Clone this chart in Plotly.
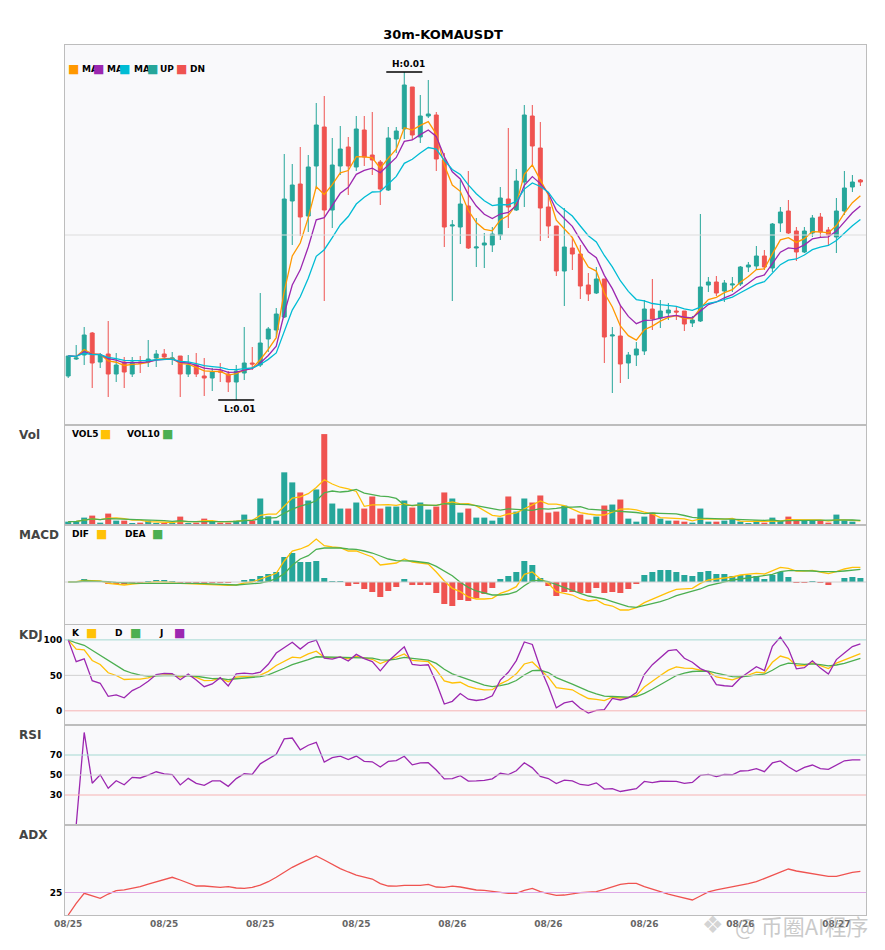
import numpy as np
import pandas as pd
import plotly.graph_objects as go
from plotly.subplots import make_subplots

# 30m candles, KOMA/USDT
tick_pos = [0, 12, 24, 36, 48, 60, 72, 84, 96]
tick_text = ['08/25', '08/25', '08/25', '08/25', '08/26', '08/26', '08/26', '08/26', '08/27']

open_ = [0.00859, 0.00876, 0.00880, 0.00902, 0.00873, 0.00881, 0.00861, 0.00873, 0.00861, 0.00873,
         0.00873, 0.00877, 0.00881, 0.00876, 0.00879, 0.00861, 0.00870, 0.00859, 0.00857, 0.00864,
         0.00861, 0.00853, 0.00862, 0.00872, 0.00870, 0.00896, 0.00905, 0.00918, 0.01034, 0.01051,
         0.01019, 0.01069, 0.01108, 0.01025, 0.01069, 0.01088, 0.01068, 0.01105, 0.01080, 0.01073,
         0.01045, 0.01096, 0.01106, 0.01148, 0.01098, 0.01119, 0.01120, 0.01075, 0.01009, 0.01008,
         0.01029, 0.00987, 0.00990, 0.00990, 0.01000, 0.01036, 0.01025, 0.01053, 0.01119, 0.01087,
         0.01028, 0.01009, 0.00964, 0.00987, 0.00981, 0.00950, 0.00942, 0.00956, 0.00899, 0.00899,
         0.00872, 0.00880, 0.00884, 0.00926, 0.00917, 0.00922, 0.00924, 0.00924, 0.00912, 0.00914,
         0.00950, 0.00953, 0.00944, 0.00950, 0.00951, 0.00968, 0.00969, 0.00979, 0.00967, 0.01012,
         0.01024, 0.01004, 0.00983, 0.01002, 0.01018, 0.01005, 0.00998, 0.01024, 0.01048, 0.01055]

high = [0.00879, 0.00890, 0.00908, 0.00903, 0.00882, 0.00914, 0.00882, 0.00878, 0.00878, 0.00879,
        0.00895, 0.00885, 0.00886, 0.00883, 0.00879, 0.00880, 0.00882, 0.00877, 0.00867, 0.00872,
        0.00864, 0.00870, 0.00908, 0.00888, 0.00942, 0.00908, 0.00927, 0.01081, 0.01071, 0.01088,
        0.01080, 0.01132, 0.01139, 0.01097, 0.01109, 0.01098, 0.01119, 0.01119, 0.01123, 0.01075,
        0.01108, 0.01108, 0.01163, 0.01148, 0.01140, 0.01155, 0.01123, 0.01082, 0.01015, 0.01055,
        0.01064, 0.01017, 0.01002, 0.01008, 0.01048, 0.01107, 0.01066, 0.01130, 0.01130, 0.01113,
        0.01040, 0.01009, 0.01027, 0.00998, 0.00990, 0.00962, 0.00968, 0.00956, 0.00908, 0.00930,
        0.00883, 0.00893, 0.00935, 0.00956, 0.00935, 0.00932, 0.00928, 0.00924, 0.00919, 0.01021,
        0.00958, 0.00959, 0.00955, 0.00958, 0.00969, 0.00973, 0.00989, 0.00985, 0.01012, 0.01028,
        0.01035, 0.01008, 0.01008, 0.01020, 0.01022, 0.01008, 0.01037, 0.01064, 0.01060, 0.01056]

low = [0.00857, 0.00875, 0.00870, 0.00847, 0.00867, 0.00838, 0.00853, 0.00847, 0.00858, 0.00862,
       0.00868, 0.00868, 0.00877, 0.00870, 0.00838, 0.00858, 0.00858, 0.00839, 0.00844, 0.00853,
       0.00843, 0.00835, 0.00855, 0.00865, 0.00868, 0.00883, 0.00898, 0.00917, 0.00990, 0.00999,
       0.01003, 0.01047, 0.00934, 0.01007, 0.01060, 0.01040, 0.01064, 0.01069, 0.01060, 0.01030,
       0.01044, 0.01082, 0.01096, 0.01095, 0.01092, 0.01117, 0.01064, 0.00988, 0.00934, 0.00991,
       0.00986, 0.00968, 0.00967, 0.00983, 0.00995, 0.01007, 0.01024, 0.01028, 0.01068, 0.00994,
       0.00997, 0.00959, 0.00929, 0.00965, 0.00936, 0.00934, 0.00941, 0.00872, 0.00842, 0.00852,
       0.00856, 0.00869, 0.00880, 0.00905, 0.00907, 0.00915, 0.00915, 0.00904, 0.00908, 0.00913,
       0.00943, 0.00939, 0.00933, 0.00943, 0.00949, 0.00963, 0.00965, 0.00965, 0.00963, 0.01003,
       0.01001, 0.00974, 0.00982, 0.00998, 0.00997, 0.00990, 0.00982, 0.01020, 0.01043, 0.01049]

close = [0.00879, 0.00877, 0.00900, 0.00872, 0.00880, 0.00861, 0.00870, 0.00863, 0.00873, 0.00872,
         0.00876, 0.00881, 0.00878, 0.00877, 0.00861, 0.00870, 0.00861, 0.00857, 0.00863, 0.00863,
         0.00853, 0.00864, 0.00872, 0.00871, 0.00892, 0.00906, 0.00921, 0.01036, 0.01050, 0.01018,
         0.01068, 0.01110, 0.01025, 0.01070, 0.01086, 0.01069, 0.01106, 0.01078, 0.01075, 0.01046,
         0.01097, 0.01104, 0.01150, 0.01100, 0.01119, 0.01121, 0.01076, 0.01008, 0.01010, 0.01031,
         0.00987, 0.00988, 0.00992, 0.01001, 0.01037, 0.01028, 0.01054, 0.01120, 0.01089, 0.01027,
         0.01009, 0.00964, 0.00988, 0.00981, 0.00949, 0.00941, 0.00956, 0.00898, 0.00900, 0.00871,
         0.00880, 0.00886, 0.00926, 0.00916, 0.00924, 0.00925, 0.00923, 0.00911, 0.00915, 0.00948,
         0.00953, 0.00942, 0.00952, 0.00951, 0.00968, 0.00970, 0.00979, 0.00968, 0.01011, 0.01023,
         0.01002, 0.00983, 0.01004, 0.01017, 0.01003, 0.01000, 0.01024, 0.01047, 0.01053, 0.01053]

# volume, thousands
volume = [10, 12, 22, 28, 7, 34, 13, 13, 5, 7,
          13, 5, 5, 7, 25, 5, 7, 19, 10, 7,
          7, 13, 31, 13, 79, 26, 13, 157, 127, 97,
          73, 106, 271, 64, 49, 49, 67, 49, 85, 49,
          55, 55, 73, 52, 67, 46, 55, 97, 79, 37,
          49, 22, 22, 13, 22, 85, 40, 79, 67, 88,
          37, 40, 58, 19, 31, 16, 25, 58, 61, 76,
          19, 10, 25, 37, 19, 13, 13, 10, 7, 49,
          10, 10, 13, 16, 10, 4, 13, 7, 22, 13,
          25, 13, 13, 13, 13, 7, 31, 13, 10, 1]

# MACD, 1e-6 USDT
dif = [0, 1, 5, 4, 3, -4, -6, -9, -6, -5,
       -2, 1, 1, -1, -4, -5, -7, -9, -9, -9,
       -10, -9, -3, 0, 9, 18, 26, 63, 93, 99,
       109, 129, 109, 105, 103, 93, 93, 84, 75, 51,
       54, 57, 69, 60, 57, 54, 30, 3, -19, -29,
       -45, -51, -51, -49, -34, -26, -14, 23, 30, 9,
       -4, -29, -34, -39, -51, -57, -54, -67, -72, -84,
       -84, -77, -62, -51, -41, -31, -22, -21, -19, -4,
       6, 9, 12, 15, 21, 23, 26, 24, 33, 44,
       41, 33, 33, 35, 30, 25, 31, 39, 44, 44]

dea = [0, 0, 3, 3, 3, 1, -1, -3, -3, -4,
       -4, -3, -2, -2, -3, -3, -4, -5, -6, -7,
       -8, -9, -7, -5, -3, 2, 10, 25, 50, 69,
       79, 98, 102, 102, 102, 99, 98, 93, 87, 78,
       69, 64, 64, 63, 60, 57, 47, 34, 19, -1,
       -16, -27, -34, -39, -39, -36, -29, -11, 4, 5,
       1, -8, -18, -25, -34, -42, -47, -51, -59, -66,
       -74, -76, -71, -66, -59, -51, -41, -34, -27, -21,
       -11, -5, 1, 6, 9, 13, 16, 19, 23, 31,
       34, 34, 34, 33, 31, 30, 31, 33, 36, 38]

macd_hist = [0, 0, 9, 1, 0, -6, -6, -7, -3, -1,
             3, 6, 6, 3, -2, -2, -3, -6, -3, -1,
             -3, 0, 6, 9, 18, 24, 30, 75, 87, 60,
             60, 63, 12, 3, 1, -12, -6, -21, -30, -45,
             -27, -15, 9, -9, -9, -9, -33, -66, -72, -54,
             -57, -48, -36, -18, 9, 18, 30, 63, 51, 12,
             -12, -42, -30, -30, -33, -33, -18, -33, -30, -33,
             -21, -6, 21, 30, 36, 36, 30, 21, 18, 30,
             33, 24, 24, 18, 21, 21, 18, 9, 21, 30,
             15, -1, -1, 3, -1, -9, 0, 12, 15, 12]

# ADX
adx = [0, 13.0, 24.1, 21.1, 18.5, 23.3, 27.0, 27.8, 29.3, 31.5,
       34.4, 36.7, 38.9, 41.9, 38.9, 35.2, 32.2, 32.2, 31.5, 30.7,
       31.5, 30.0, 29.6, 30.7, 33.3, 37.0, 41.9, 47.4, 53.0, 57.4,
       61.9, 65.6, 61.1, 56.3, 51.5, 47.8, 44.4, 42.2, 40.0, 34.8,
       32.2, 32.0, 33.0, 33.0, 33.0, 34.1, 31.1, 30.7, 32.0, 31.1,
       29.6, 27.8, 27.4, 26.3, 24.4, 24.1, 24.1, 27.4, 29.6, 25.9,
       23.7, 21.9, 22.2, 23.7, 24.8, 25.3, 25.9, 28.5, 31.5, 34.1,
       35.2, 35.2, 31.5, 28.5, 25.6, 23.3, 21.1, 18.9, 16.7, 21.1,
       25.6, 27.8, 29.6, 30.7, 32.6, 34.8, 37.0, 40.4, 43.7, 47.4,
       51.1, 48.9, 47.4, 46.3, 44.8, 43.0, 43.0, 45.2, 47.4, 48.5]

UP = '#26A69A'
DN = '#EF5350'

df = pd.DataFrame({'open': open_, 'high': high, 'low': low, 'close': close, 'vol': volume})
x = list(range(len(df)))

# скользящие и осцилляторы
ema5 = df['close'].ewm(span=5, adjust=False).mean()
ema8 = df['close'].ewm(span=8, adjust=False).mean()
ema13 = df['close'].ewm(span=13, adjust=False).mean()
vol5 = df['vol'].rolling(5, min_periods=1).mean()
vol10 = df['vol'].rolling(10, min_periods=1).mean()

low9 = df['low'].rolling(9, min_periods=1).min()
high9 = df['high'].rolling(9, min_periods=1).max()
rsv = (df['close'] - low9) / (high9 - low9) * 100
k = rsv.ewm(com=2, adjust=False).mean()
d = k.ewm(com=2, adjust=False).mean()
j = 3 * k - 2 * d

delta = df['close'].diff()
gain = delta.clip(lower=0).ewm(com=13).mean()
loss = (-delta.clip(upper=0)).ewm(com=13).mean()
rsi = (100 * gain / (gain + loss)).fillna(0)

vol_colors = [UP if c >= o else DN for o, c in zip(open_, close)]
macd_colors = [UP if v >= 0 else DN for v in macd_hist]

fig = make_subplots(rows=6, cols=1, shared_xaxes=True, vertical_spacing=0,
                    row_heights=[380, 100, 100, 100, 100, 90])

fig.add_trace(go.Candlestick(x=x, open=df['open'], high=df['high'], low=df['low'], close=df['close'],
                             increasing=dict(line=dict(color=UP, width=1), fillcolor=UP),
                             decreasing=dict(line=dict(color=DN, width=1), fillcolor=DN)),
              row=1, col=1)
for s, c in [(ema5, '#FF9800'), (ema8, '#9C27B0'), (ema13, '#00BCD4')]:
    fig.add_trace(go.Scatter(x=x, y=s, mode='lines', line=dict(color=c, width=1.3)), row=1, col=1)

fig.add_trace(go.Bar(x=x, y=df['vol'], marker=dict(color=vol_colors, line_width=0)), row=2, col=1)
fig.add_trace(go.Scatter(x=x, y=vol5, mode='lines', line=dict(color='#FFC107', width=1.3)), row=2, col=1)
fig.add_trace(go.Scatter(x=x, y=vol10, mode='lines', line=dict(color='#4CAF50', width=1.3)), row=2, col=1)

fig.add_trace(go.Bar(x=x, y=macd_hist, marker=dict(color=macd_colors, line_width=0)), row=3, col=1)
fig.add_trace(go.Scatter(x=x, y=dif, mode='lines', line=dict(color='#FFC107', width=1.3)), row=3, col=1)
fig.add_trace(go.Scatter(x=x, y=dea, mode='lines', line=dict(color='#4CAF50', width=1.3)), row=3, col=1)

for s, c in [(k, '#FFC107'), (d, '#4CAF50'), (j, '#9C27B0')]:
    fig.add_trace(go.Scatter(x=x, y=s, mode='lines', line=dict(color=c, width=1.3)), row=4, col=1)
fig.add_trace(go.Scatter(x=x, y=rsi, mode='lines', line=dict(color='#9C27B0', width=1.3)), row=5, col=1)
fig.add_trace(go.Scatter(x=x, y=adx, mode='lines', line=dict(color='#EF5350', width=1.3)), row=6, col=1)

# reference lines
fig.add_hline(y=0.01, line=dict(color='#DDDDDD', width=1), row=1, col=1)
fig.add_hline(y=0, line=dict(color='#D0D0D0', width=1), row=3, col=1)
for r, lines in [(4, [(100, '#A5D9D2'), (50, '#D0D0D0'), (0, '#F7B3B3')]),
                 (5, [(70, '#A5D9D2'), (50, '#D0D0D0'), (30, '#F7B3B3')]),
                 (6, [(25, '#DDA8E6')])]:
    for yv, c in lines:
        fig.add_hline(y=yv, line=dict(color=c, width=1), row=r, col=1)

# H / L markers
ih = int(np.argmax(high))
il = int(np.argmin(low))
fig.add_shape(type='line', x0=ih - 2.25, x1=ih + 2.25, y0=high[ih], y1=high[ih],
              line=dict(color='black', width=1.5), row=1, col=1)
fig.add_shape(type='line', x0=il - 2.25, x1=il + 2.25, y0=low[il], y1=low[il],
              line=dict(color='black', width=1.5), row=1, col=1)
fig.add_annotation(x=ih + 0.5, y=high[ih], text=f'H:{high[ih]:.2f}', showarrow=False, yanchor='bottom',
                   yshift=1, font=dict(size=9, color='black', weight='bold'), row=1, col=1)
fig.add_annotation(x=il + 0.5, y=low[il], text=f'L:{low[il]:.2f}', showarrow=False, yanchor='top',
                   yshift=-2, font=dict(size=9, color='black', weight='bold'), row=1, col=1)

# page pixels of the plot area (page has an 8px body margin)
L, R, T, B = 65, 866, 45, 915
OFF = 8
W, H = 885 - OFF, 950 - OFF

def px(v):
    return (v - L) / (R - L)

def py(v):
    return (B - v) / (B - T)

def text_at(xp, yp, txt, size=9, color='black', anchor='left', family=None):
    fig.add_annotation(xref='paper', yref='paper', x=px(xp), y=py(yp), text=txt, showarrow=False,
                       xanchor=anchor, yanchor='middle',
                       font=dict(size=size, color=color, weight='bold', family=family))

def square_at(xp, yp, color):
    fig.add_annotation(xref='paper', yref='paper', x=px(xp), y=py(yp), text='■', showarrow=False,
                       xanchor='center', yanchor='middle', font=dict(size=12, color=color))

# main legend
for sx, tx, c, lab in [(73, 80, '#FF9800', 'MA'), (98, 105, '#9C27B0', 'MA'), (124, 132, '#00BCD4', 'MA'),
                       (152, 158, UP, 'UP'), (181, 188, DN, 'DN')]:
    text_at(tx, 69, lab)
    square_at(sx, 69, c)

# panel legends
for items, yp in [([('VOL5', 70, 105, '#FFC107'), ('VOL10', 125, 167, '#4CAF50')], 434),
                  ([('DIF', 70, 101, '#FFC107'), ('DEA', 123, 157, '#4CAF50')], 534),
                  ([('K', 70, 91, '#FFC107'), ('D', 113, 135, '#4CAF50'), ('J', 157, 179, '#9C27B0')], 633)]:
    for lab, tx, sx, c in items:
        text_at(tx, yp, lab)
        square_at(sx, yp, c)

for lab, yp in [('Vol', 435), ('MACD', 535), ('KDJ', 635), ('RSI', 735), ('ADX', 835)]:
    text_at(17, yp, lab, size=12, color='#444444')

# watermark
fig.add_annotation(xref='paper', yref='paper', x=px(713), y=py(925), text='❖', showarrow=False,
                   xanchor='center', yanchor='middle',
                   font=dict(size=24, color='rgba(170,170,170,0.5)'))
fig.add_annotation(xref='paper', yref='paper', x=px(733), y=py(925), text='@ 币圈AI程序', showarrow=False,
                   xanchor='left', yanchor='middle',
                   font=dict(size=22, color='rgba(150,150,150,0.5)', family='Noto Sans CJK SC'))

fig.update_xaxes(range=[-0.4, 99.7], showgrid=False, zeroline=False, showline=True, mirror=True,
                 linecolor='#BDBDBD', linewidth=1, showticklabels=False, rangeslider_visible=False)
fig.update_xaxes(showticklabels=True, tickvals=tick_pos, ticktext=tick_text,
                 tickfont=dict(size=9, color='#666666', weight='bold'), row=6, col=1)
fig.update_yaxes(showgrid=False, zeroline=False, showline=True, mirror=True, linecolor='#BDBDBD',
                 linewidth=1, showticklabels=False, ticks='',
                 tickfont=dict(size=9, color='black', weight='bold'))
fig.update_yaxes(range=[0.0081, 0.0119], row=1, col=1)
fig.update_yaxes(range=[0, max(volume) * 1.1], row=2, col=1)
fig.update_yaxes(range=[-129, 171], row=3, col=1)
fig.update_yaxes(range=[-20, 121], tickvals=[0, 50, 100], showticklabels=True, row=4, col=1)
fig.update_yaxes(range=[0, 100], tickvals=[30, 50, 70], showticklabels=True, row=5, col=1)
fig.update_yaxes(range=[0, 100], tickvals=[25], showticklabels=True, row=6, col=1)

fig.update_layout(
    width=W, height=H,
    margin=dict(l=L - OFF, r=W - (R - OFF), t=T - OFF, b=H - (B - OFF)),
    title=dict(text='30m-KOMAUSDT', x=(443 - OFF) / W, xref='container', xanchor='center',
               y=1 - (34 - OFF) / H, yanchor='middle',
               font=dict(size=13, color='black', weight='bold')),
    font=dict(family='DejaVu Sans'),
    paper_bgcolor='white',
    plot_bgcolor='#F9F9FB',
    showlegend=False,
    bargap=0.25,
)

fig.write_html('out.html')
